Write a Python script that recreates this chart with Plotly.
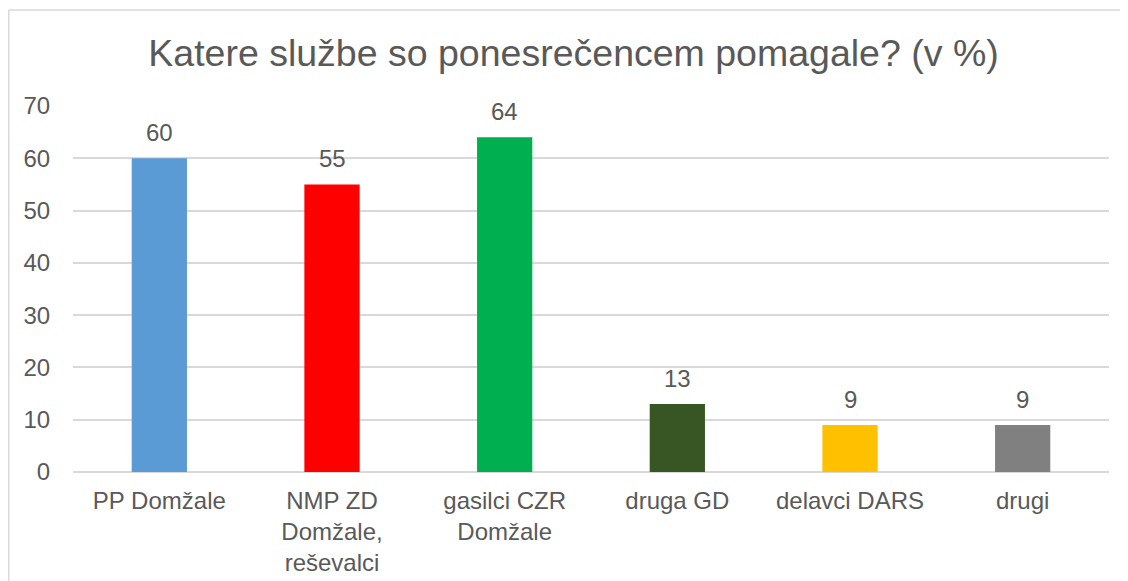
import plotly.graph_objects as go

categories = ["PP Domžale", "NMP ZD<br>Domžale,<br>reševalci", "gasilci CZR<br>Domžale",
              "druga GD", "delavci DARS", "drugi"]
values = [60, 55, 64, 13, 9, 9]
colors = ["#5B9BD5", "#FF0000", "#00B050", "#375623", "#FFC000", "#808080"]
title = "Katere službe so ponesrečencem pomagale? (v %)"
y_ticks = [0, 10, 20, 30, 40, 50, 60, 70]

W, H = 1128, 581
OFF = 8  # page body offset
L, T = 73 - OFF, 106 - OFF
R = W - (1109 - OFF)
B = H - (472 - OFF)
pw, ph = W - L - R, H - T - B
font = "Liberation Sans, Arial, sans-serif"
txt = "#595959"
grid = "#D9D9D9"

fig = go.Figure(go.Bar(x=categories, y=values, marker=dict(color=colors, line=dict(width=0)),
                       width=0.32, hoverinfo="skip"))

for c, v in zip(categories, values):
    fig.add_annotation(x=c, y=v, text=str(v), showarrow=False, yanchor="bottom", yshift=10,
                       font=dict(family=font, size=24, color=txt))

# chart frame (right and bottom edges fall outside the picture)
fx0 = (8 - OFF - L + 0.75) / pw
fy1 = (H - B - (10 - OFF)) / ph
fig.add_shape(type="line", xref="paper", yref="paper", x0=fx0, x1=1.2, y0=fy1, y1=fy1,
              line=dict(color=grid, width=1.5))
fig.add_shape(type="line", xref="paper", yref="paper", x0=fx0, x1=fx0, y0=fy1, y1=-0.5,
              line=dict(color=grid, width=1.5))

fig.update_layout(
    width=W, height=H,
    margin=dict(l=L, r=R, t=T, b=B),
    paper_bgcolor="white", plot_bgcolor="white",
    title=dict(text=title, x=(573.5 - OFF) / W, xanchor="center", y=1 - (53 - OFF) / H,
               yanchor="middle", font=dict(family=font, size=37.5, color=txt)),
    showlegend=False,
    xaxis=dict(showgrid=False, showline=False, zeroline=False, ticks="outside", ticklen=7,
               tickcolor="rgba(0,0,0,0)", tickfont=dict(family=font, size=24, color=txt)),
    yaxis=dict(range=[0, 70], tickvals=y_ticks, showgrid=True, gridcolor=grid, gridwidth=1.5,
               zeroline=True, zerolinecolor=grid, zerolinewidth=1.5, showline=False,
               ticks="outside", ticklen=17, tickcolor="rgba(0,0,0,0)",
               tickfont=dict(family=font, size=24, color=txt)),
)

fig.write_html("out.html")
